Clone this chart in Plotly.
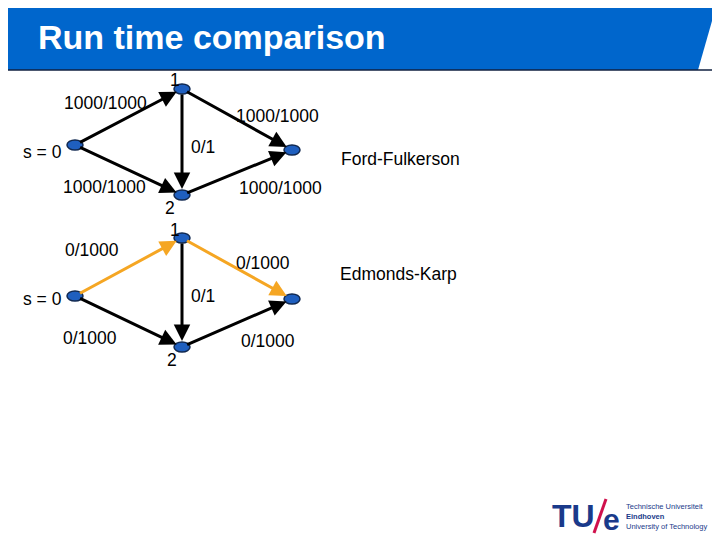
import plotly.graph_objects as go

# graph layout (slide pixel coordinates), node order: s, 1, 2, t
node_x = [75, 182, 182, 292]
node_y_top = [145, 89, 195, 150]
node_y_bot = [296, 238, 347, 299]
edges = [(0, 1), (0, 2), (1, 2), (1, 3), (2, 3)]
flow_top = ["1000/1000", "1000/1000", "0/1", "1000/1000", "1000/1000"]
flow_bot = ["0/1000", "0/1000", "0/1", "0/1000", "0/1000"]
path_bot = [True, False, False, True, False]  # augmenting path highlighted

# label positions per edge (top, bottom)
lab_top = [(105, 103), (104, 187), (203, 147), (277, 116), (280, 188)]
lab_bot = [(92, 250), (90, 338), (203, 296), (263, 263), (268, 341)]

BLUE = "#0066cc"
ORANGE = "#f5a623"
NODE = "#1f5fbf"
FONT = "Liberation Sans"

fig = go.Figure()
shapes = []
ann = []

# header
shapes.append(dict(type="rect", x0=0, x1=718, y0=0, y1=70, fillcolor=BLUE, line_width=0, layer="below"))
shapes.append(dict(type="path", path="M 698 70 L 718 0 L 720 0 L 720 70 Z", fillcolor="white", line_width=0))
shapes.append(dict(type="line", x0=0, x1=718, y0=70, y1=70, line=dict(color="#102040", width=1.5)))
shapes.append(dict(type="line", x0=718, x1=718, y0=0, y1=70, line=dict(color="#102040", width=1.5)))
ann.append(dict(x=36, y=37, text="<b>Run time comparison</b>", showarrow=False, xanchor="left",
                font=dict(size=34, color="white", family=FONT)))


def draw(ny, flows, labs, highlight, name_labels):
    for i, (a, b) in enumerate(edges):
        col = ORANGE if highlight[i] else "black"
        ann.append(dict(x=node_x[b], y=ny[b], ax=node_x[a], ay=ny[a], xref="x", yref="y",
                        axref="x", ayref="y", showarrow=True, arrowhead=2, arrowsize=1.1,
                        arrowwidth=3, arrowcolor=col, standoff=6, startstandoff=4, text=""))
        ann.append(dict(x=labs[i][0], y=labs[i][1], text=flows[i], showarrow=False,
                        font=dict(size=17.5, color="black", family=FONT)))
    for x, y in zip(node_x, ny):
        shapes.append(dict(type="circle", x0=x - 8, x1=x + 8, y0=y - 5, y1=y + 5,
                           fillcolor=NODE, line=dict(color="#102850", width=1.5)))
    for (x, y, t) in name_labels:
        ann.append(dict(x=x, y=y, text=t, showarrow=False,
                        font=dict(size=17.5, color="black", family=FONT)))


draw(node_y_top, flow_top, lab_top, [False] * 5,
     [(175, 80, "1"), (170, 208, "2"), (42, 152, "s = 0"), (400, 159, "Ford-Fulkerson")])
draw(node_y_bot, flow_bot, lab_bot, path_bot,
     [(175, 230, "1"), (172, 360, "2"), (42, 299, "s = 0"), (398, 274, "Edmonds-Karp")])

# logo
ann.append(dict(x=573, y=516, text="<b>TU</b>", showarrow=False,
                font=dict(size=32, color="#1a3a8a", family=FONT)))
shapes.append(dict(type="line", x0=594, x1=606, y0=533, y1=499, line=dict(color="#d0104c", width=3)))
ann.append(dict(x=611, y=519, text="<b>e</b>", showarrow=False,
                font=dict(size=30, color="#1a3a8a", family=FONT)))
ann.append(dict(x=624, y=516, text="Technische Universiteit<br><b>Eindhoven</b><br>University of Technology",
                showarrow=False, xanchor="left", align="left",
                font=dict(size=7.5, color="#1a3a8a", family=FONT)))

# the page body has an 8px margin, so the plot area starts at page pixel 8
fig.update_layout(
    width=712, height=532, margin=dict(l=0, r=0, t=0, b=0),
    plot_bgcolor="white", paper_bgcolor="white", showlegend=False,
    xaxis=dict(range=[8, 720], visible=False, fixedrange=True),
    yaxis=dict(range=[540, 8], visible=False, fixedrange=True),
    shapes=shapes, annotations=ann,
)
fig.write_html("out.html")
